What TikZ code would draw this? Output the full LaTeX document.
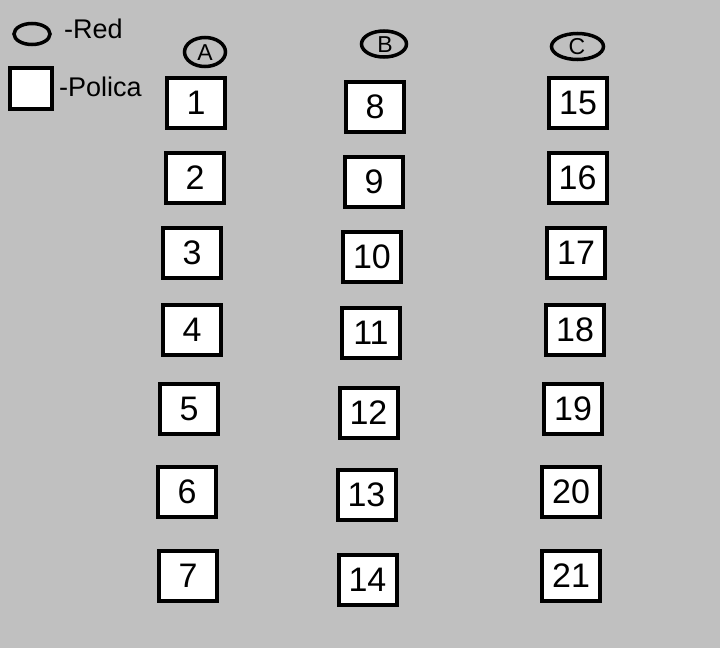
\documentclass[tikz,border=0pt]{standalone}
\usepackage{fontspec}
\setmainfont{Liberation Sans}
\usetikzlibrary{shapes.geometric}
\definecolor{bg}{RGB}{192,192,192}
\tikzset{
  polica/.style={draw=black, fill=white, line width=4pt, minimum width=58pt, minimum height=50pt, inner sep=0pt, font=\fontsize{34}{36}\selectfont},
  redhead/.style={draw=black, ellipse, line width=3.5pt, inner sep=0pt},
  headtext/.style={inner sep=0pt, font=\fontsize{23}{25}\selectfont},
  legendtext/.style={anchor=west, inner sep=0pt, font=\fontsize{27}{30}\selectfont}
}
\begin{document}
\begin{tikzpicture}[x=1pt,y=-1pt]
\fill[bg] (0,0) rectangle (720,648);
\useasboundingbox (0,0) rectangle (720,648);
% legend
\node[redhead, minimum width=36pt, minimum height=21pt] (legred) at (32,34) {};
\node[legendtext] (legredtxt) at (64,29) {-Red};
\node[draw=black, fill=white, line width=4pt, minimum width=42pt, minimum height=41pt, inner sep=0pt] (legpol) at (31,88.5) {};
\node[legendtext] (legpoltxt) at (59,87) {-Polica};
% headers
\node[redhead, minimum width=41pt, minimum height=29pt] (hA) at (205,52) {};
\node[headtext] (hAtxt) at (205,52.5) {A};
\node[redhead, minimum width=45pt, minimum height=26pt] (hB) at (384,44) {};
\node[headtext] (hBtxt) at (385,44.5) {B};
\node[redhead, minimum width=52pt, minimum height=26pt] (hC) at (577.5,46.5) {};
\node[headtext] (hCtxt) at (577,47) {C};
% column A
\node[polica] (p1) at (196,103) {1};
\node[polica] (p2) at (195,178) {2};
\node[polica] (p3) at (192,253) {3};
\node[polica] (p4) at (192,329.5) {4};
\node[polica] (p5) at (189,409) {5};
\node[polica] (p6) at (187,491.5) {6};
\node[polica] (p7) at (188,575.5) {7};
% column B
\node[polica] (p8) at (375,106.5) {8};
\node[polica] (p9) at (374,182) {9};
\node[polica] (p10) at (372,257) {10};
\node[polica] (p11) at (371,333) {11};
\node[polica] (p12) at (368.5,412.5) {12};
\node[polica] (p13) at (366.5,495) {13};
\node[polica] (p14) at (367.5,579.5) {14};
% column C
\node[polica] (p15) at (578,102.5) {15};
\node[polica] (p16) at (577.5,178) {16};
\node[polica] (p17) at (576,253) {17};
\node[polica] (p18) at (575,329.5) {18};
\node[polica] (p19) at (573,409) {19};
\node[polica] (p20) at (571,491.5) {20};
\node[polica] (p21) at (571,575.5) {21};
\end{tikzpicture}
\end{document}
